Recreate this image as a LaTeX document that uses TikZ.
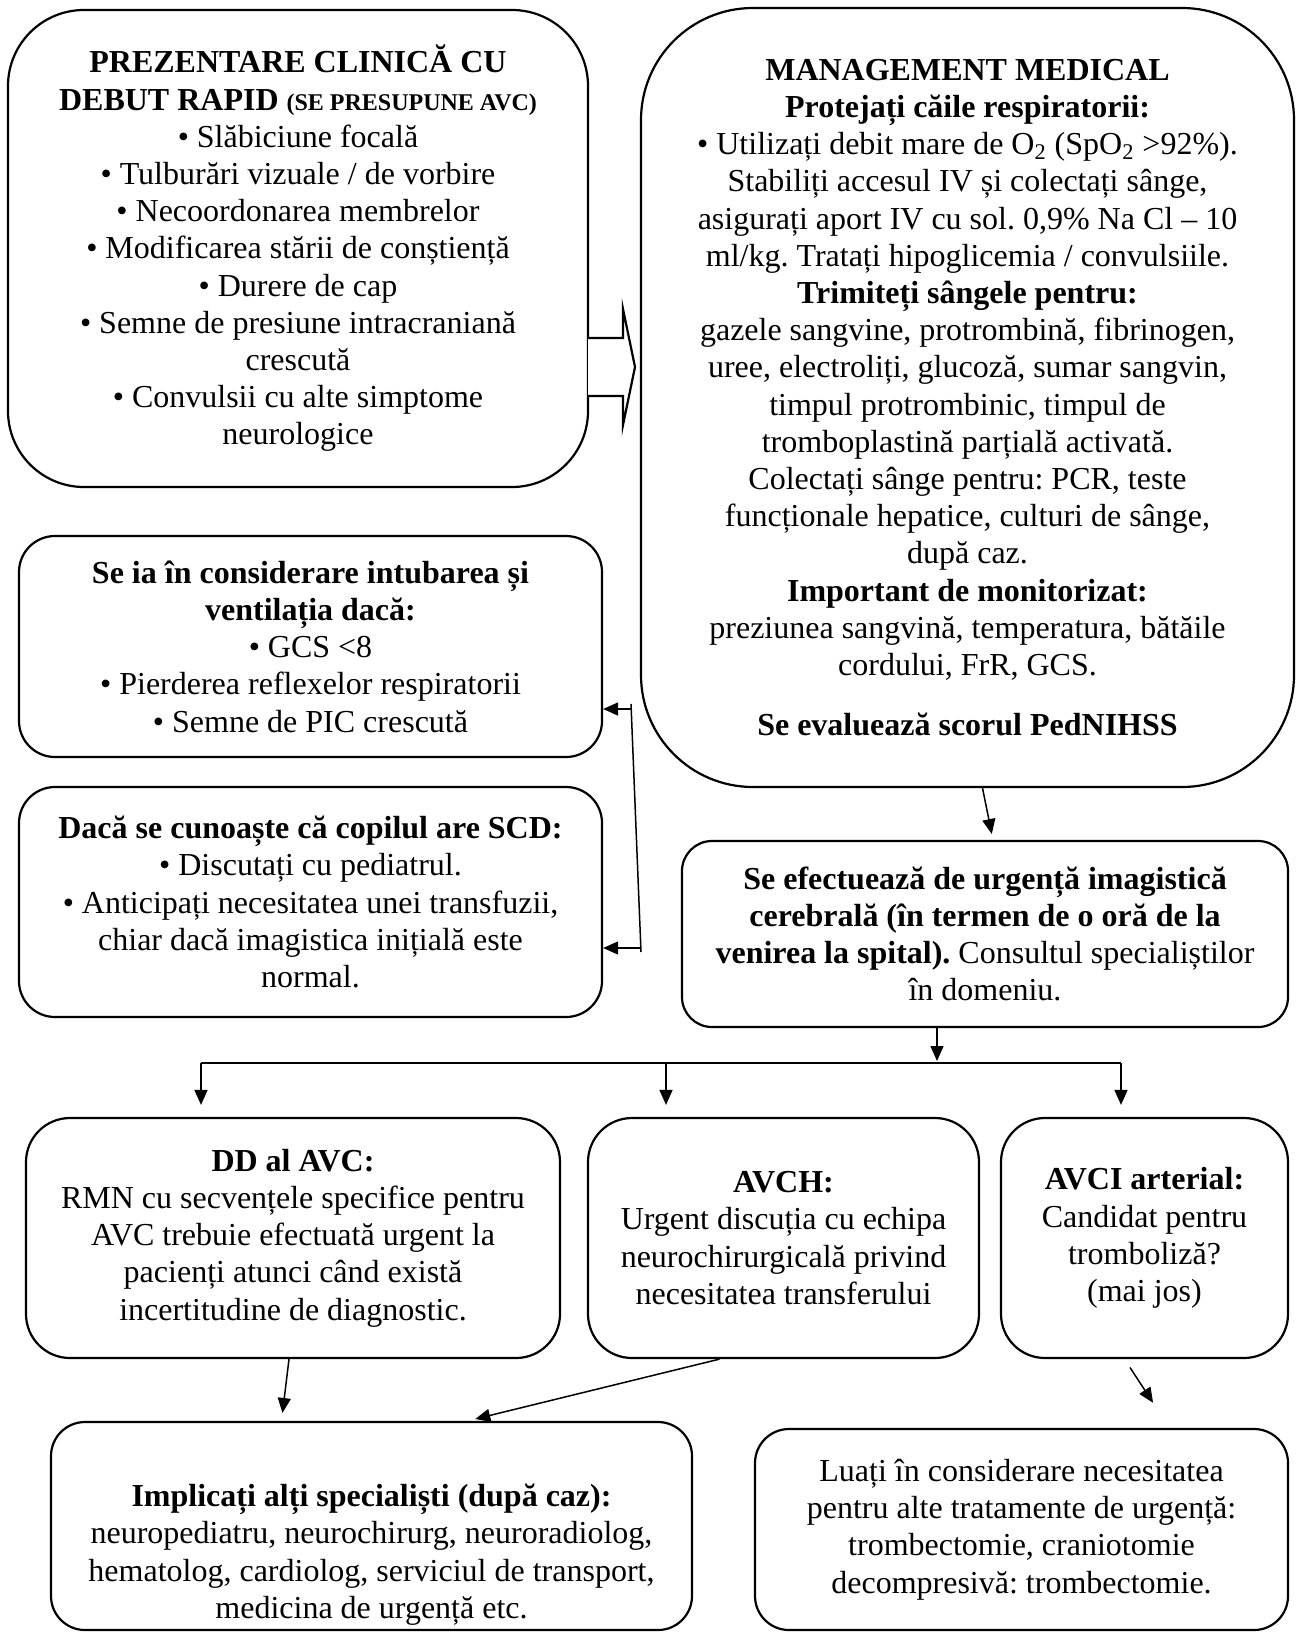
\documentclass[tikz,border=0pt]{standalone}
\usepackage{fontspec}
\setmainfont{Liberation Serif}
\usetikzlibrary{arrows.meta,calc}
\frenchspacing
\tikzset{
  >={Triangle[length=7.5pt,width=6.5pt]},
  font=\fontsize{16}{18.6}\selectfont,
  box/.style={draw=black,line width=1.1pt,inner sep=0pt,align=center},
  flow/.style={->,line width=0.75pt},
  link/.style={line width=0.75pt},
  hollow/.style={draw=black,line width=1.1pt,fill=white,line join=miter},
}
\newcommand{\smallbold}[1]{{\fontsize{12}{14}\selectfont\bfseries #1}}

\begin{document}
\begin{tikzpicture}[x=0.5pt,y=-0.5pt]
  \useasboundingbox (0,0) rectangle (1296,1632);

  % top row
  \node[box,rounded corners=38pt,minimum width=290pt,minimum height=238.5pt] (clinic) at (298,248.5)
    {\textbf{PREZENTARE CLINICĂ CU}\\
     \textbf{DEBUT RAPID} \smallbold{(SE PRESUPUNE AVC)}\\
     • Slăbiciune focală\\
     • Tulburări vizuale / de vorbire\\
     • Necoordonarea membrelor\\
     • Modificarea stării de conștiență\\
     • Durere de cap\\
     • Semne de presiune intracraniană\\
     crescută\\
     • Convulsii cu alte simptome\\
     neurologice};
  \node[box,rounded corners=56pt,minimum width=326.5pt,minimum height=389.5pt] (mgmt) at (967.5,397.5)
    {\textbf{MANAGEMENT MEDICAL}\\
     \textbf{Protejați căile respiratorii:}\\
     • Utilizați debit mare de O\textsubscript{2} (SpO\textsubscript{2} >92\%).\\
     Stabiliți accesul IV și colectați sânge,\\
     asigurați aport IV cu sol. 0,9\% Na Cl – 10\\
     ml/kg. Tratați hipoglicemia / convulsiile.\\
     \textbf{Trimiteți sângele pentru:}\\
     gazele sangvine, protrombină, fibrinogen,\\
     uree, electroliți, glucoză, sumar sangvin,\\
     timpul protrombinic, timpul de\\
     tromboplastină parțială activată.\\
     Colectați sânge pentru: PCR, teste\\
     funcționale hepatice, culturi de sânge,\\
     după caz.\\
     \textbf{Important de monitorizat:}\\
     preziunea sangvină, temperatura, bătăile\\
     cordului, FrR, GCS.\\[11.5pt]
     \textbf{Se evaluează scorul PedNIHSS}};

  % left column
  \node[box,rounded corners=18pt,minimum width=291.5pt,minimum height=110.5pt] (intub) at (310.5,646.5)
    {\textbf{Se ia în considerare intubarea și}\\
     \textbf{ventilația dacă:}\\
     • GCS <8\\
     • Pierderea reflexelor respiratorii\\
     • Semne de PIC crescută};
  \node[box,rounded corners=18pt,minimum width=291.5pt,minimum height=115pt] (scd) at (310.5,902)
    {\textbf{Dacă se cunoaște că copilul are SCD:}\\
     • Discutați cu pediatrul.\\
     • Anticipați necesitatea unei transfuzii,\\
     chiar dacă imagistica inițială este\\
     normal.};
  \node[box,rounded corners=15pt,minimum width=303pt,minimum height=93pt] (imag) at (985,934)
    {\textbf{Se efectuează de urgență imagistică}\\
     \textbf{cerebrală (în termen de o oră de la}\\
     \textbf{venirea la spital).} Consultul specialiștilor\\
     în domeniu.};

  % diagnosis row
  \node[box,rounded corners=22pt,minimum width=267pt,minimum height=120pt] (dd) at (293,1238)
    {\textbf{DD al AVC:}\\
     RMN cu secvențele specifice pentru\\
     AVC trebuie efectuată urgent la\\
     pacienți atunci când există\\
     incertitudine de diagnostic.};
  \node[box,rounded corners=22pt,minimum width=195.5pt,minimum height=120pt] (avch) at (783.5,1238)
    {\textbf{AVCH:}\\
     Urgent discuția cu echipa\\
     neurochirurgicală privind\\
     necesitatea transferului};
  \node[box,rounded corners=22pt,minimum width=143.5pt,minimum height=120pt] (avci) at (1144.5,1238)
    {\textbf{AVCI arterial:}\\
     Candidat pentru\\
     tromboliză?\\
     (mai jos)};

  % bottom row
  \node[box,rounded corners=17pt,minimum width=320.5pt,minimum height=104pt] (spec) at (371.5,1526)
    {\rule{0pt}{40pt}\textbf{Implicați alți specialiști (după caz):}\\
     neuropediatru, neurochirurg, neuroradiolog,\\
     hematolog, cardiolog, serviciul de transport,\\
     medicina de urgență etc.};
  \node[box,rounded corners=17pt,minimum width=266.5pt,minimum height=100.5pt] (treat) at (1021.5,1529.5)
    {Luați în considerare necesitatea\\
     pentru alte tratamente de urgență:\\
     trombectomie, craniotomie\\
     decompresivă: trombectomie.};

  % connectors
  \draw[hollow] (588,338) -- (623,338) -- (623,309) -- (635,367) -- (623,425) -- (623,396) -- (588,396);

  \coordinate (vtop) at (631,704);
  \coordinate (vbot) at (641,952);
  \coordinate (ta) at (631,709);
  \coordinate (tb) at (640,948);
  \draw[link] (vtop) -- (vbot);
  \draw[flow] (ta) -- (ta -| intub.east);
  \draw[flow] (tb) -- (tb -| scd.east);

  \draw[flow,shorten >=3pt] ([xshift=7.5pt]mgmt.south) -- ([xshift=4pt]imag.north);

  \coordinate (fork) at (937,1063);
  \coordinate (busL) at (201,1063);
  \coordinate (busM) at (666,1063);
  \coordinate (busR) at (1121,1063);
  \draw[flow,shorten >=1pt] (fork |- imag.south) -- (fork);
  \draw[link] (busL) -- (busR);
  \draw[flow,shorten >=6pt] (busL) -- (busL |- dd.north);
  \draw[flow,shorten >=6pt] (busM) -- (busM |- avch.north);
  \draw[flow,shorten >=6pt] (busR) -- (busR |- avci.north);

  \draw[flow,shorten >=4pt] ([xshift=-2pt]dd.south) -- ([xshift=-45pt]spec.north);
  \draw[flow,shorten >=4pt] ([xshift=-32pt]avch.south) -- ([xshift=48pt]spec.north);
  \draw[flow,shorten <=5pt,shorten >=15pt] ([xshift=-10pt]avci.south) -- ([xshift=74pt]treat.north);
\end{tikzpicture}
\end{document}
